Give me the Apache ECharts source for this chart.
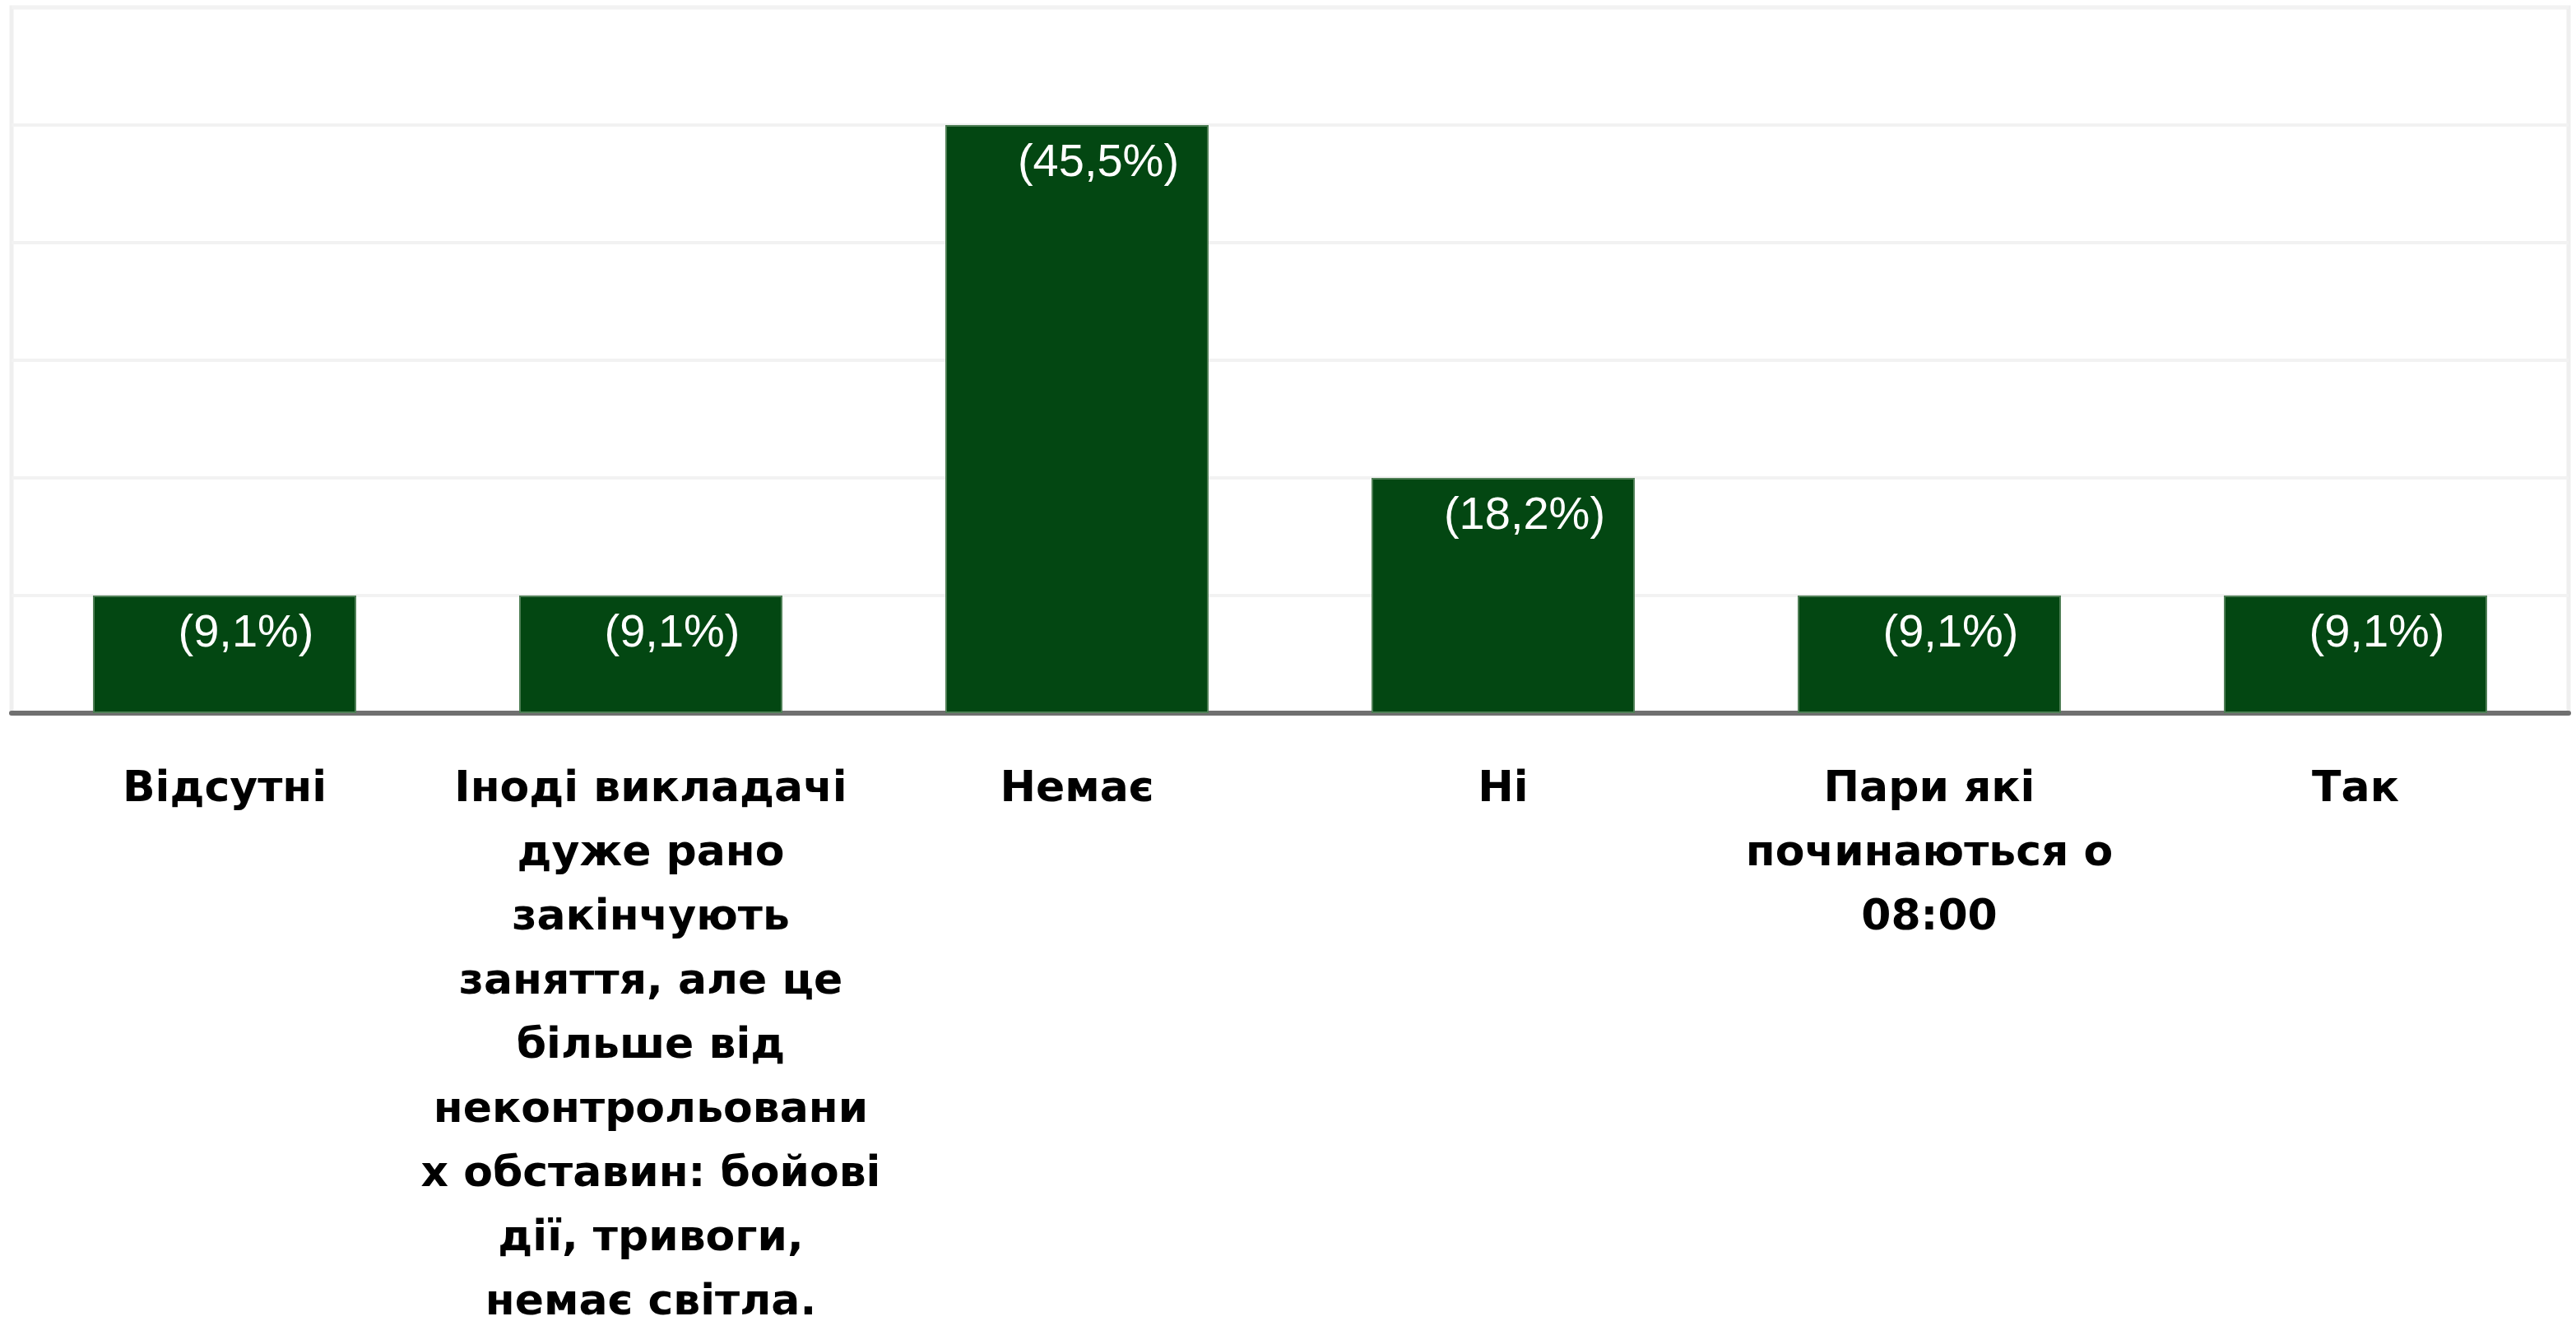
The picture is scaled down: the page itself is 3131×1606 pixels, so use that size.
<!DOCTYPE html>
<html>
<head>
<meta charset="utf-8">
<script src="https://cdn.jsdelivr.net/npm/echarts@6/dist/echarts.min.js"></script>
<style>
html,body{margin:0;padding:0;background:#fff;}
#chart{width:3131px;height:1606px;}
</style>
</head>
<body>
<div id="chart"></div>
<script>
// Categories (original answers)
const categories = [
  "Відсутні",
  "Іноді викладачі дуже рано закінчують заняття, але це більше від неконтрольованих обставин: бойові дії, тривоги, немає світла.",
  "Немає",
  "Ні",
  "Пари які починаються о 08:00",
  "Так"
];
// Tick labels as wrapped in the reference
const tickLabels = [
  "Відсутні",
  "Іноді викладачі\nдуже рано\nзакінчують\nзаняття, але це\nбільше від\nнеконтрольовани\nх обставин: бойові\nдії, тривоги,\nнемає світла.",
  "Немає",
  "Ні",
  "Пари які\nпочинаються о\n08:00",
  "Так"
];
// Counts of responses
const counts = [1, 1, 5, 2, 1, 1];
// Percent labels shown on bars
const percentLabels = ["(9,1%)", "(9,1%)", "(45,5%)", "(18,2%)", "(9,1%)", "(9,1%)"];
// Y axis range
const yMin = 0, yMax = 6, yStep = 1;

const chart = echarts.init(document.getElementById('chart'));
chart.setOption({
  animation: false,
  backgroundColor: '#ffffff',
  grid: {
    left: 14, right: 9, top: 9, bottom: 739,
    outerBoundsMode: 'none',
    containLabel: false,
    show: true, borderColor: '#efefef', borderWidth: 5
  },
  xAxis: {
    type: 'category',
    data: categories,
    axisTick: { show: false },
    axisLine: { show: true, lineStyle: { color: '#707070', width: 6 } },
    axisLabel: {
      interval: 0,
      margin: 54,
      formatter: function (v, i) { return tickLabels[i]; },
      fontFamily: 'DejaVu Sans',
      fontWeight: 700,
      fontSize: 52,
      lineHeight: 78,
      color: '#000000',
      align: 'center'
    }
  },
  yAxis: {
    type: 'value',
    min: yMin, max: yMax, interval: yStep,
    axisLabel: { show: false },
    axisTick: { show: false },
    axisLine: { show: false },
    splitLine: { show: true, lineStyle: { color: '#f2f2f2', width: 4 } }
  },
  series: [{
    type: 'bar',
    data: counts,
    barWidth: 320,
    itemStyle: { color: '#034712', borderColor: '#4f7f56', borderWidth: 2 },
    label: {
      show: true,
      position: 'insideTop',
      distance: 19,
      offset: [26, 0],
      formatter: function (p) { return percentLabels[p.dataIndex]; },
      fontFamily: 'Liberation Sans',
      fontSize: 56,
      color: '#ffffff'
    }
  }]
});
</script>
</body>
</html>
